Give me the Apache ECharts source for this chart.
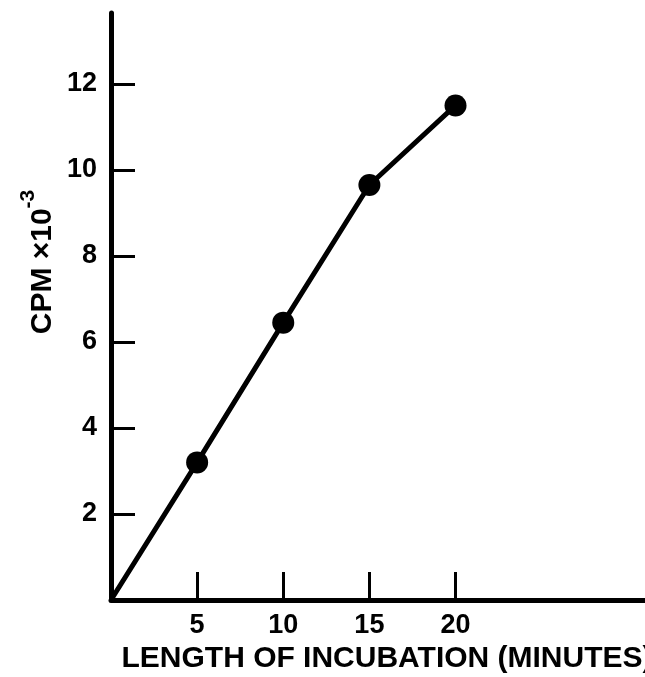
<!DOCTYPE html>
<html>
<head>
<meta charset="utf-8">
<script src="https://cdn.jsdelivr.net/npm/echarts@6/dist/echarts.min.js"></script>
<style>
	html, body { margin: 0; padding: 0; background: #fff; }
	#main { width: 645px; height: 677px; }
</style>
</head>
<body>
<div id="main"></div>
<script>
	// incubation time (minutes) vs CPM x 10^-3
	var minutes = [0, 5, 10, 15, 20]
	var cpm = [0, 3.2, 6.45, 9.65, 11.5]
	var xTicks = [5, 10, 15, 20]
	var yTicks = [2, 4, 6, 8, 10, 12]

	var font = '"Liberation Sans", Arial, sans-serif'

	var points = minutes.map(function (m, i) {
		return {
			value: [m, cpm[i]],
			// no dot at origin
			symbolSize: i === 0 ? 0 : 22
		}
	})

	var myChart = echarts.init(document.getElementById('main'))

	var option = {
		backgroundColor: '#fff',
		animation: false,
		grid: {
			left: 111,
			top: 13,
			right: 0,
			bottom: 77,
			outerBoundsMode: 'none'
		},
		xAxis: {
			type: 'value',
			min: 0,
			max: 31,
			interval: 5,
			splitLine: { show: false },
			axisLine: { lineStyle: { color: '#000', width: 5 } },
			axisTick: {
				inside: true,
				length: 28,
				customValues: xTicks,
				lineStyle: { color: '#000', width: 3 }
			},
			axisLabel: {
				customValues: xTicks,
				margin: 12,
				color: '#000',
				fontFamily: font,
				fontWeight: 'bold',
				fontSize: 27
			},
			name: 'LENGTH OF INCUBATION (MINUTES)',
			nameLocation: 'middle',
			nameGap: 43,
			nameTextStyle: {
				color: '#000',
				fontFamily: font,
				fontWeight: 'bold',
				fontSize: 30,
				padding: [0, 0, 0, 18]
			}
		},
		yAxis: {
			type: 'value',
			min: 0,
			max: 13.65,
			interval: 2,
			splitLine: { show: false },
			axisLine: { lineStyle: { color: '#000', width: 5 } },
			axisTick: {
				inside: true,
				length: 24,
				customValues: yTicks,
				lineStyle: { color: '#000', width: 3 }
			},
			axisLabel: {
				customValues: yTicks,
				margin: 14,
				color: '#000',
				fontFamily: font,
				fontWeight: 'bold',
				fontSize: 27
			}
		},
		graphic: [
			{
				type: 'text',
				x: 38,
				y: 262,
				rotation: Math.PI / 2,
				style: {
					text: '{a|CPM ×10}{b|-3}',
					align: 'center',
					verticalAlign: 'middle',
					fill: '#000',
					rich: {
						a: {
							fontFamily: font,
							fontWeight: 'bold',
							fontSize: 30,
							lineHeight: 40,
							verticalAlign: 'bottom'
						},
						b: {
							fontFamily: font,
							fontWeight: 'bold',
							fontSize: 21,
							lineHeight: 21,
							verticalAlign: 'top'
						}
					}
				}
			}
		],
		series: [
			{
				type: 'line',
				data: points,
				symbol: 'circle',
				showSymbol: true,
				lineStyle: { color: '#000', width: 5 },
				itemStyle: { color: '#000' }
			}
		]
	}

	myChart.setOption(option)
</script>
</body>
</html>
